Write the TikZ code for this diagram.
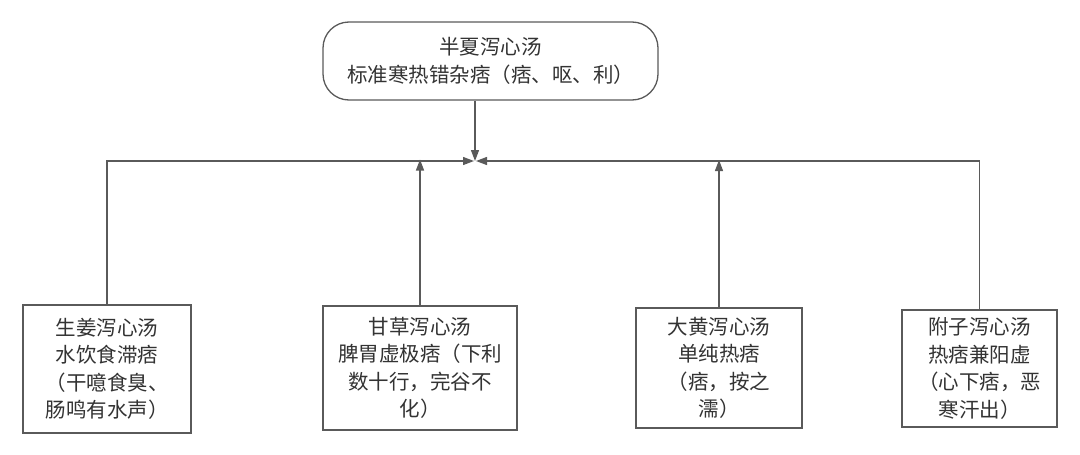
\documentclass[tikz,border=0pt]{standalone}
\usepackage{fontspec}
\newfontfamily\cjk{Noto Sans CJK SC}
\usetikzlibrary{arrows.meta}
\definecolor{linec}{HTML}{5A5A5A}
\definecolor{textc}{HTML}{333333}
\begin{document}
\begin{tikzpicture}[x=1pt,y=-1pt,
  boxbase/.style={draw=linec,line width=1.3pt,fill=white,text=textc,align=center,inner sep=0pt,
    font=\cjk\fontsize{20.5}{27.5}\selectfont},
  topbox/.style={boxbase,rounded corners=26pt},
  subbox/.style={boxbase},
  arr/.style={draw=linec,line width=1.3pt,-{Triangle[length=11pt,width=8pt]}}
]
\useasboundingbox (0,0) rectangle (1080,455);
\node[topbox,minimum width=335pt,minimum height=78pt] (top) at (490.5,61)
  {半夏泻心汤\\标准寒热错杂痞（痞、呕、利）};
\node[subbox,minimum width=168pt,minimum height=128pt] (b1) at (107,369)
  {生姜泻心汤\\水饮食滞痞\\（干噫食臭、\\肠鸣有水声）};
\node[subbox,minimum width=194pt,minimum height=124pt] (b2) at (420,368)
  {甘草泻心汤\\脾胃虚极痞（下利\\数十行，完谷不\\化）};
\node[subbox,minimum width=166pt,minimum height=120pt] (b3) at (719,368)
  {大黄泻心汤\\单纯热痞\\（痞，按之\\濡）};
\node[subbox,minimum width=155pt,minimum height=117pt] (b4) at (979.5,368.5)
  {附子泻心汤\\热痞兼阳虚\\（心下痞，恶\\寒汗出）};
\coordinate (J) at (475,161);
\draw[arr] (top.south -| J) -- (J);
\draw[arr] (b1.north) |- ([xshift=-1pt]J);
\draw[arr] (b4.north) |- ([xshift=1pt]J);
\draw[arr] (b2.north) -- ([yshift=1.5pt]b2.north |- J);
\draw[arr] (b3.north) -- ([yshift=1pt]b3.north |- J);
\end{tikzpicture}
\end{document}
